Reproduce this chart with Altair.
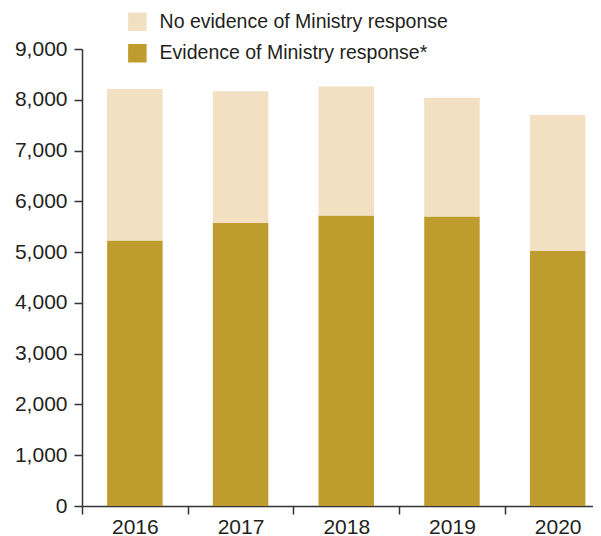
import altair as alt
import pandas as pd

years = ["2016", "2017", "2018", "2019", "2020"]
evidence = [5230, 5580, 5720, 5700, 5020]
totals = [8210, 8170, 8260, 8040, 7700]
no_evidence = [t - e for t, e in zip(totals, evidence)]

series_names = ["No evidence of Ministry response", "Evidence of Ministry response*"]
series_colors = ["#F3DFC1", "#BE9C2D"]
y_ticks = [0, 1000, 2000, 3000, 4000, 5000, 6000, 7000, 8000, 9000]

rows = []
for i, y in enumerate(years):
    rows.append({"year": y, "series": series_names[1], "value": evidence[i], "ord": 0})
    rows.append({"year": y, "series": series_names[0], "value": no_evidence[i], "ord": 1})
df = pd.DataFrame(rows)

FONT = "Liberation Sans"
TXT = "#231F20"

chart = (
    alt.Chart(df)
    .mark_bar(width=alt.RelativeBandSize(0.525))
    .encode(
        x=alt.X(
            "year:N",
            sort=years,
            scale=alt.Scale(paddingInner=0, paddingOuter=0, range=[0, 528.5]),
            axis=alt.Axis(
                title=None,
                labelAngle=0,
                tickBand="extent",
                tickSize=8,
                labelPadding=2,
                labelFontSize=21,
                labelFont=FONT,
                labelColor=TXT,
                domainColor="#333333",
                tickColor="#333333",
                domainWidth=1.5,
                tickWidth=1.5,
            ),
        ),
        y=alt.Y(
            "value:Q",
            stack="zero",
            scale=alt.Scale(domain=[0, 9000], nice=False),
            axis=alt.Axis(
                title=None,
                values=y_ticks,
                format=",d",
                grid=False,
                tickSize=8,
                labelPadding=7,
                labelFontSize=21,
                labelFont=FONT,
                labelColor=TXT,
                domainColor="#333333",
                tickColor="#333333",
                domainWidth=1.5,
                tickWidth=1.5,
            ),
        ),
        color=alt.Color(
            "series:N",
            scale=alt.Scale(domain=series_names, range=series_colors),
            legend=alt.Legend(
                title=None,
                orient="none",
                legendX=45.6,
                legendY=-37,
                symbolType="square",
                symbolSize=342,
                symbolStrokeWidth=0,
                labelFontSize=19.5,
                labelFont=FONT,
                labelColor=TXT,
                labelOffset=12.5,
                labelLimit=0,
                rowPadding=10.5,
                padding=0,
            ),
        ),
        order=alt.Order("ord:Q"),
    )
    .properties(
        width=511,
        height=457,
        autosize=alt.AutoSizeParams(type="none"),
        padding={"left": 74, "top": 41, "right": 0, "bottom": 30},
    )
    .configure_view(stroke=None)
)

chart.save("out.html", embed_options={"renderer": "svg", "actions": False})
